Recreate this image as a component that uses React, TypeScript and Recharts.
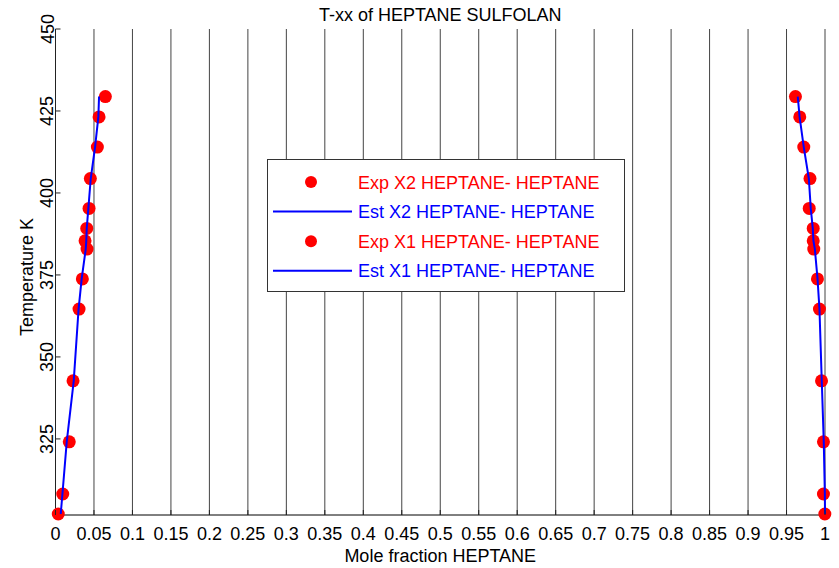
import React from 'react';
import { ScatterChart, Scatter, XAxis, YAxis, CartesianGrid, Legend, Label } from 'recharts';

// temperature (K) of each tie line, bottom to top
const tempK = [302.1, 308.2, 324.1, 342.7, 364.6, 373.8, 382.9, 385.4, 389.2, 395.3, 404.4, 414.0, 423.2, 429.4];

// heptane mole fraction, sulfolan-rich phase (X2) and heptane-rich phase (X1)
const expX2 = [0.0036, 0.0094, 0.0179, 0.0228, 0.0306, 0.0349, 0.041, 0.0384, 0.0406, 0.0436, 0.0453, 0.0544, 0.0566, 0.0648];
const estX2 = [0.0068, 0.009, 0.0146, 0.0237, 0.03, 0.034, 0.0393, 0.04, 0.0406, 0.0427, 0.0458, 0.0514, 0.0557, 0.0566];
const expX1 = [0.9998, 0.998, 0.998, 0.9955, 0.9928, 0.9902, 0.9854, 0.9847, 0.9847, 0.9795, 0.9805, 0.9724, 0.9672, 0.9616];
const estX1 = [1.0, 0.9998, 0.9984, 0.9958, 0.9928, 0.9903, 0.9868, 0.985, 0.9841, 0.9815, 0.979, 0.9724, 0.967, 0.9646];

const xTicks = [0, 0.05, 0.1, 0.15, 0.2, 0.25, 0.3, 0.35, 0.4, 0.45, 0.5, 0.55, 0.6, 0.65, 0.7, 0.75, 0.8, 0.85, 0.9, 0.95, 1];
const yTicks = [325, 350, 375, 400, 425, 450];

const seriesNames = ['Exp X2 HEPTANE- HEPTANE', 'Est X2 HEPTANE- HEPTANE', 'Exp X1 HEPTANE- HEPTANE', 'Est X1 HEPTANE- HEPTANE'];

const FONT = '"Liberation Sans", Arial, sans-serif';
const FS = 18;
const RED = '#ff0000';
const BLUE = '#0000ff';

const toPoints = (xs: number[]) => xs.map((x, i) => ({ x, t: tempK[i] }));

const fmt = (v: number) => String(Number(v.toFixed(2)));

const XTick = ({ x, y, payload }: any) => (
  <g>
    <line x1={x} x2={x} y1={y} y2={y - 5} stroke="#222" />
    <text x={x} y={y + 25} textAnchor="middle" fontSize={FS} fontFamily={FONT} fill="#000">
      {fmt(payload.value)}
    </text>
  </g>
);

const YTick = ({ x, y, payload }: any) => (
  <g>
    <line x1={x} x2={x + 5} y1={y} y2={y} stroke="#222" />
    <text x={x - 2} y={y} transform={`rotate(-90, ${x - 2}, ${y})`} textAnchor="middle" fontSize={FS} fontFamily={FONT} fill="#000">
      {payload.value}
    </text>
  </g>
);

const Dot = ({ cx, cy }: any) => <circle cx={cx} cy={cy} r={6.5} fill={RED} />;
const NoDot = () => <g />;

const LegendBox = () => (
  <div style={{ width: 358, height: 133, border: '1px solid #333', boxSizing: 'border-box', background: '#fff' }}>
    <svg width={356} height={131}>
      {seriesNames.map((name, i) => {
        const cy = 22 + i * 29.6;
        const isExp = i % 2 === 0;
        return (
          <g key={name}>
            {isExp ? (
              <circle cx={43} cy={cy} r={6} fill={RED} />
            ) : (
              <line x1={5} x2={84} y1={cy} y2={cy} stroke={BLUE} strokeWidth={2} />
            )}
            <text x={90} y={cy + 6.5} fontSize={FS} fontFamily={FONT} fill={isExp ? RED : BLUE}>
              {name}
            </text>
          </g>
        );
      })}
    </svg>
  </div>
);

export default function App() {
  return (
    <div style={{ position: 'absolute', left: 0, top: 0, width: 839, height: 568, background: '#fff', fontFamily: FONT }}>
      <div
        style={{
          position: 'absolute',
          left: 55.5,
          top: 6,
          width: 769.5,
          textAlign: 'center',
          fontSize: FS,
          lineHeight: '18px',
          color: '#000',
          zIndex: 2,
        }}
      >
        T-xx of HEPTANE SULFOLAN
      </div>
      <ScatterChart width={839} height={568} margin={{ top: 29, right: 14, bottom: 23, left: 0 }}>
        <CartesianGrid horizontal={false} stroke="#444" />
        <XAxis
          type="number"
          dataKey="x"
          domain={[0, 1]}
          ticks={xTicks}
          tick={XTick}
          tickSize={0}
          tickMargin={0}
          height={30}
          axisLine={{ stroke: '#000' }}
        >
          <Label
            content={({ viewBox }: any) => (
              <text x={viewBox.x + viewBox.width / 2} y={viewBox.y + 47} textAnchor="middle" fontSize={FS} fontFamily={FONT} fill="#000">
                Mole fraction HEPTANE
              </text>
            )}
          />
        </XAxis>
        <YAxis
          type="number"
          dataKey="t"
          domain={[301.8, 450]}
          ticks={yTicks}
          tick={YTick}
          tickSize={0}
          tickMargin={0}
          width={55.5}
          axisLine={{ stroke: '#222' }}
        >
          <Label
            content={({ viewBox }: any) => {
              const lx = viewBox.x + 33;
              const ly = viewBox.y + viewBox.height / 2 + 5;
              return (
                <text x={lx} y={ly} transform={`rotate(-90, ${lx}, ${ly})`} textAnchor="middle" fontSize={FS} fontFamily={FONT} fill="#000">
                  Temperature K
                </text>
              );
            }}
          />
        </YAxis>
        <Legend
          layout="horizontal"
          verticalAlign="middle"
          align="center"
          content={LegendBox}
          wrapperStyle={{ left: 267, top: 159, width: 358, height: 133 }}
        />
        <Scatter name={seriesNames[0]} data={toPoints(expX2)} shape={Dot} isAnimationActive={false} />
        <Scatter name={seriesNames[1]} data={toPoints(estX2)} shape={NoDot} line={{ stroke: BLUE, strokeWidth: 2 }} isAnimationActive={false} />
        <Scatter name={seriesNames[2]} data={toPoints(expX1)} shape={Dot} isAnimationActive={false} />
        <Scatter name={seriesNames[3]} data={toPoints(estX1)} shape={NoDot} line={{ stroke: BLUE, strokeWidth: 2 }} isAnimationActive={false} />
      </ScatterChart>
    </div>
  );
}
